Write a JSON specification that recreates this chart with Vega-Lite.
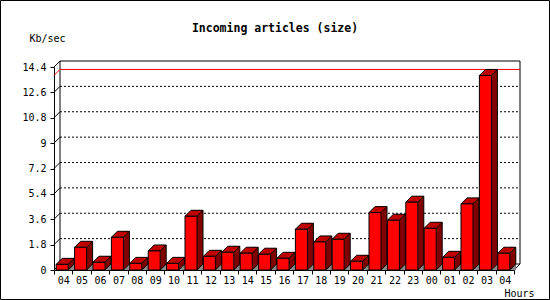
{
  "$schema": "https://vega.github.io/schema/vega-lite/v6.json",
  "width": 460,
  "height": 203,
  "autosize": {"type": "none"},
  "padding": {"left": 54, "top": 67, "right": 36, "bottom": 30},
  "background": "white",
  "config": {"view": {"stroke": null}, "font": "DejaVu Sans Mono", "axis": {"grid": false, "labelOverlap": false, "labelFlush": false}},
  "title": {"text": "Incoming articles (size)", "font": "DejaVu Sans Mono", "fontSize": 11.5, "fontWeight": "bold", "color": "black", "anchor": "middle", "frame": "group", "dx": -9, "dy": 38},
  "datasets": {
    "bars": [
      {"t": "01 04", "v": 0.40}, {"t": "01 05", "v": 1.61}, {"t": "01 06", "v": 0.55}, {"t": "01 07", "v": 2.32},
      {"t": "01 08", "v": 0.47}, {"t": "01 09", "v": 1.35}, {"t": "01 10", "v": 0.47}, {"t": "01 11", "v": 3.81},
      {"t": "01 12", "v": 0.97}, {"t": "01 13", "v": 1.26}, {"t": "01 14", "v": 1.19}, {"t": "01 15", "v": 1.12},
      {"t": "01 16", "v": 0.83}, {"t": "01 17", "v": 2.89}, {"t": "01 18", "v": 1.99}, {"t": "01 19", "v": 2.18},
      {"t": "01 20", "v": 0.62}, {"t": "01 21", "v": 4.07}, {"t": "01 22", "v": 3.53}, {"t": "01 23", "v": 4.81},
      {"t": "02 00", "v": 2.96}, {"t": "02 01", "v": 0.90}, {"t": "02 02", "v": 4.69}, {"t": "02 03", "v": 13.80},
      {"t": "02 04", "v": 1.19}
    ],
    "grid": [{"g": 1.8}, {"g": 3.6}, {"g": 5.4}, {"g": 7.2}, {"g": 9}, {"g": 10.8}, {"g": 12.6}],
    "ticks": [{"g": 0}, {"g": 1.8}, {"g": 3.6}, {"g": 5.4}, {"g": 7.2}, {"g": 9}, {"g": 10.8}, {"g": 12.6}, {"g": 14.4}],
    "box": [{"g": 0}, {"g": 14.4}],
    "maxline": [{"g": 13.8}],
    "one": [{"k": 1}]
  },
  "data": {"name": "bars"},
  "layer": [
    {
      "mark": {"type": "bar", "width": 12, "xOffset": -1, "fill": "#ff0000", "stroke": "black", "strokeWidth": 1, "opacity": 0},
      "encoding": {
        "x": {
          "field": "t", "type": "ordinal",
          "scale": {"type": "band", "paddingInner": 0, "paddingOuter": 0},
          "axis": {
            "title": "Hours", "labelExpr": "slice(datum.label, 3)", "labelAngle": 0,
            "labelFont": "DejaVu Sans Mono", "labelFontSize": 10, "labelColor": "black",
            "labelPadding": 1, "labelFlush": false, "labelOverlap": false,
            "tickBand": "extent", "tickSize": 4, "tickColor": "black", "domainColor": "black",
            "titleFont": "DejaVu Sans Mono", "titleFontSize": 10, "titleFontWeight": "normal", "titleColor": "black",
            "titleAnchor": "end", "titleAlign": "right", "titleX": 480, "titleY": 26, "titleBaseline": "alphabetic"
          }
        },
        "y": {
          "field": "v", "type": "quantitative", "stack": null,
          "scale": {"domain": [0, 14.4], "nice": false, "zero": true},
          "axis": {
            "title": "Kb/sec", "values": [0, 1.8, 3.6, 5.4, 7.2, 9, 10.8, 12.6, 14.4], "tickCount": 20, "format": ".3~g",
            "grid": false, "labelFont": "DejaVu Sans Mono", "labelFontSize": 10, "labelColor": "black",
            "labelPadding": 4, "labelFlush": false, "labelOverlap": false, "labelBound": false,
            "tickSize": 4, "tickColor": "black", "domainColor": "black",
            "titleFont": "DejaVu Sans Mono", "titleFontSize": 10, "titleFontWeight": "normal", "titleColor": "black",
            "titleAngle": 0, "titleAlign": "left", "titleBaseline": "alphabetic", "titleX": -25, "titleY": -26
          }
        }
      }
    },
    {
      "data": {"name": "one"},
      "mark": {"type": "rect", "fill": null, "fillOpacity": 0, "stroke": "black", "strokeWidth": 1, "xOffset": -53.5, "x2Offset": 35.5, "yOffset": -66.5, "y2Offset": 29.5},
      "encoding": {
        "x": {"datum": "01 04", "type": "ordinal", "bandPosition": 0},
        "x2": {"datum": "02 04", "bandPosition": 1},
        "y": {"datum": 14.4, "type": "quantitative"},
        "y2": {"datum": 0}
      }
    },
    {
      "data": {"name": "grid"},
      "mark": {"type": "rule", "color": "black", "strokeWidth": 1, "strokeDash": [2, 2], "xOffset": 6, "x2Offset": 6, "yOffset": -6},
      "encoding": {
        "x": {"datum": "01 04", "type": "ordinal", "bandPosition": 0},
        "x2": {"datum": "02 04", "bandPosition": 1},
        "y": {"field": "g", "type": "quantitative"}
      }
    },
    {
      "data": {"name": "box"},
      "mark": {"type": "rule", "color": "black", "strokeWidth": 1, "xOffset": 6, "x2Offset": 6, "yOffset": -6},
      "encoding": {
        "x": {"datum": "01 04", "type": "ordinal", "bandPosition": 0},
        "x2": {"datum": "02 04", "bandPosition": 1},
        "y": {"field": "g", "type": "quantitative"}
      }
    },
    {
      "data": {"name": "one"},
      "mark": {"type": "rule", "color": "black", "strokeWidth": 1, "xOffset": 6, "yOffset": -6, "y2Offset": -6},
      "encoding": {
        "x": {"datum": "01 04", "type": "ordinal", "bandPosition": 0},
        "y": {"datum": 0, "type": "quantitative"},
        "y2": {"datum": 14.4}
      }
    },
    {
      "data": {"name": "one"},
      "mark": {"type": "rule", "color": "black", "strokeWidth": 1, "xOffset": 6, "yOffset": -6, "y2Offset": -6},
      "encoding": {
        "x": {"datum": "02 04", "type": "ordinal", "bandPosition": 1},
        "y": {"datum": 0, "type": "quantitative"},
        "y2": {"datum": 14.4}
      }
    },
    {
      "data": {"name": "maxline"},
      "mark": {"type": "rule", "stroke": "#ff0000", "color": "#ff0000", "strokeWidth": 1, "opacity": 1, "xOffset": 6, "x2Offset": 6, "yOffset": -6},
      "encoding": {
        "x": {"datum": "01 04", "type": "ordinal", "bandPosition": 0},
        "x2": {"datum": "02 04", "bandPosition": 1},
        "y": {"field": "g", "type": "quantitative"}
      }
    },
    {
      "data": {"name": "maxline"},
      "mark": {"type": "point", "shape": "M0,0L6,-6", "size": 4, "filled": false, "stroke": "#ff0000", "strokeWidth": 1, "opacity": 1},
      "encoding": {
        "x": {"datum": "01 04", "type": "ordinal", "bandPosition": 0},
        "y": {"field": "g", "type": "quantitative"}
      }
    },
    {
      "data": {"name": "ticks"},
      "mark": {"type": "point", "shape": "M0,0L6,-6", "size": 4, "filled": false, "stroke": "black", "strokeWidth": 1, "opacity": 1},
      "encoding": {
        "x": {"datum": "01 04", "type": "ordinal", "bandPosition": 0},
        "y": {"field": "g", "type": "quantitative"}
      }
    },
    {
      "data": {"name": "one"},
      "mark": {"type": "point", "shape": "M0,0L6,-6", "size": 4, "filled": false, "stroke": "black", "strokeWidth": 1, "opacity": 1},
      "encoding": {
        "x": {"datum": "02 04", "type": "ordinal", "bandPosition": 1},
        "y": {"datum": 0, "type": "quantitative"}
      }
    },
    {
      "mark": {"type": "bar", "width": 6, "xOffset": 8, "yOffset": -6, "fill": "#800000", "strokeWidth": 0},
      "encoding": {
        "x": {"field": "t", "type": "ordinal"},
        "y": {"field": "v", "type": "quantitative", "stack": null}
      }
    },
    {
      "mark": {"type": "point", "shape": "M5,0L11,-6L11,0Z", "size": 4, "filled": true, "fill": "#8a8a8a", "strokeWidth": 0, "opacity": 1},
      "encoding": {
        "x": {"field": "t", "type": "ordinal"},
        "y": {"datum": 0, "type": "quantitative"}
      }
    },
    {
      "mark": {"type": "point", "shape": "M5,0L11,-6", "size": 4, "filled": false, "stroke": "black", "strokeWidth": 1, "opacity": 1},
      "encoding": {
        "x": {"field": "t", "type": "ordinal"},
        "y": {"datum": 0, "type": "quantitative"}
      }
    },
    {
      "mark": {"type": "rule", "color": "black", "strokeWidth": 1, "xOffset": 11, "yOffset": -6, "y2Offset": -6},
      "encoding": {
        "x": {"field": "t", "type": "ordinal"},
        "y": {"field": "v", "type": "quantitative"},
        "y2": {"datum": 0}
      }
    },
    {
      "mark": {"type": "point", "shape": "M-7,0L5,0L11,-6L-1,-6Z", "size": 4, "filled": true, "fill": "#c00000", "stroke": "black", "strokeWidth": 1, "opacity": 1},
      "encoding": {
        "x": {"field": "t", "type": "ordinal"},
        "y": {"field": "v", "type": "quantitative"}
      }
    },
    {
      "mark": {"type": "bar", "width": 12, "xOffset": -1, "fill": "#ff0000", "stroke": "black", "strokeWidth": 1},
      "encoding": {
        "x": {"field": "t", "type": "ordinal"},
        "y": {"field": "v", "type": "quantitative", "stack": null}
      }
    }
  ]
}
